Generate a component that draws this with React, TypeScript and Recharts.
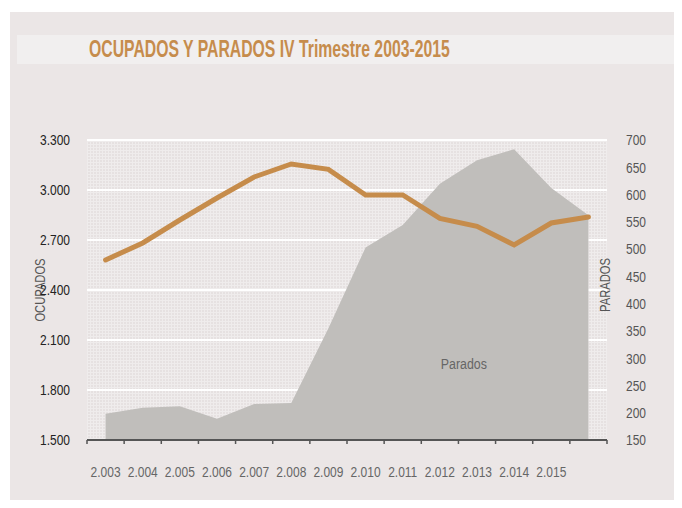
import React from "react";
import {
  ComposedChart,
  Area,
  Line,
  XAxis,
  YAxis,
  CartesianGrid,
  ReferenceDot,
} from "recharts";

// IV trimestre, miles de personas
const years = [
  "2.003", "2.004", "2.005", "2.006", "2.007", "2.008", "2.009",
  "2.010", "2.011", "2.012", "2.013", "2.014", "2.015", "",
];
const ocupados = [2580, 2682, 2820, 2952, 3078, 3156, 3124, 2970, 2970, 2830, 2782, 2670, 2802, 2838];
const parados = [198, 209, 212, 189, 216, 218, 355, 503, 544, 620, 663, 683, 612, 562];

const leftTicks = [1500, 1800, 2100, 2400, 2700, 3000, 3300];
const rightTicks = [150, 200, 250, 300, 350, 400, 450, 500, 550, 600, 650, 700];

const data = years.map((y, i) => ({ year: y, ocupados: ocupados[i], parados: parados[i] }));

const FONT = "'Liberation Sans', Arial, sans-serif";
const SQUEEZE = 0.8; // condensed look, no narrow font installed
const fmtMiles = (v: number) => v.toLocaleString("de-DE");

// text drawn at (x, y) and squeezed horizontally
function NarrowText({ x, y, rot = 0, anchor = "middle", size = 15, fill = "#555", sx = SQUEEZE, children }: any) {
  return (
    <text
      transform={`translate(${x},${y}) rotate(${rot}) scale(${sx},1)`}
      textAnchor={anchor}
      dy="0.355em"
      fill={fill}
      fontSize={size}
      fontFamily={FONT}
    >
      {children}
    </text>
  );
}

function YearTick(props: any) {
  const { x, y, payload, index, visibleTicksCount } = props;
  const half = payload?.offset ?? (607 - 87) / 28;
  const last = index === visibleTicksCount - 1;
  return (
    <g>
      <line x1={x - half} x2={x - half} y1={y} y2={y + 4} stroke="#555" strokeWidth={1.5} />
      {last && <line x1={x + half} x2={x + half} y1={y} y2={y + 4} stroke="#555" strokeWidth={1.5} />}
      {payload.value && (
        <NarrowText x={x} y={y + 32} fill="#666">
          {payload.value}
        </NarrowText>
      )}
    </g>
  );
}

function LeftTick(props: any) {
  const { x, y, payload } = props;
  return (
    <NarrowText x={x} y={y} anchor="end" fill="#222">
      {fmtMiles(payload.value)}
    </NarrowText>
  );
}

function RightTick(props: any) {
  const { x, y, payload } = props;
  return (
    <NarrowText x={x} y={y} anchor="start" fill="#555">
      {payload.value}
    </NarrowText>
  );
}

const sideLabel = (text: string, cx: number, dyc: number) => (props: any) => {
  const vb = props.viewBox || {};
  const cy = (vb.y ?? 140) + (vb.height ?? 300) / 2 + dyc;
  return (
    <NarrowText x={cx} y={cy} rot={-90} size={14} fill="#555">
      {text}
    </NarrowText>
  );
};

const areaLabel = (props: any) => {
  const vb = props.viewBox || {};
  return (
    <NarrowText x={(vb.cx ?? vb.x ?? 440) + 24} y={vb.cy ?? vb.y ?? 363} size={15.5} fill="#666">
      Parados
    </NarrowText>
  );
};

export default function App() {
  return (
    <div style={{ position: "relative", width: 682, height: 508, margin: -8, background: "#fff", overflow: "hidden" }}>
      <div style={{ position: "absolute", left: 10, top: 12, width: 672, height: 496, background: "#ebe6e6" }} />
      <div style={{ position: "absolute", left: 17, top: 35, width: 665, height: 29, background: "#f1efef" }} />
      <div
        style={{
          position: "absolute",
          left: 89,
          top: 34,
          transform: "scaleX(0.657)",
          transformOrigin: "0 0",
          whiteSpace: "nowrap",
          fontFamily: FONT,
          fontWeight: 700,
          fontSize: 24,
          lineHeight: "30px",
          color: "#c68c4c",
        }}
      >
        OCUPADOS Y PARADOS IV Trimestre 2003-2015
      </div>
      <div style={{ position: "absolute", left: 0, top: 0 }}>
        <ComposedChart width={682} height={508} data={data} margin={{ top: 140, right: 0, bottom: 0, left: 0 }}>
          <defs>
            <pattern id="dotgrid" width="3" height="3" patternUnits="userSpaceOnUse">
              <rect width="3" height="3" fill="#e6e1e1" />
              <rect width="3" height="1" fill="#efecec" />
              <rect width="1" height="3" fill="#efecec" />
            </pattern>
          </defs>
          <CartesianGrid
            yAxisId="left"
            vertical={false}
            stroke="#ffffff"
            strokeWidth={2}
            fill="url(#dotgrid)"
            fillOpacity={1}
          />
          <XAxis
            dataKey="year"
            scale="band"
            height={68}
            tickLine={false}
            tickSize={0}
            tickMargin={0}
            axisLine={{ stroke: "#555", strokeWidth: 2 }}
            tick={<YearTick />}
            interval={0}
          />
          <YAxis
            yAxisId="left"
            width={87}
            domain={[1500, 3300]}
            ticks={leftTicks}
            axisLine={false}
            tickLine={false}
            tickSize={6}
            tickMargin={11}
            tick={<LeftTick />}
            label={{ content: sideLabel("OCUPADOS", 40, 0) }}
          />
          <YAxis
            yAxisId="right"
            orientation="right"
            width={75}
            domain={[150, 700]}
            ticks={rightTicks}
            axisLine={false}
            tickLine={false}
            tickSize={6}
            tickMargin={13}
            tick={<RightTick />}
            label={{ content: sideLabel("PARADOS", 605.5, -5) }}
          />
          <Area
            yAxisId="right"
            type="linear"
            dataKey="parados"
            fill="#c0bebb"
            fillOpacity={1}
            stroke="none"
            isAnimationActive={false}
          />
          <Line
            yAxisId="left"
            type="linear"
            dataKey="ocupados"
            stroke="#c68c4b"
            strokeWidth={5}
            strokeLinecap="round"
            dot={false}
            activeDot={false}
            isAnimationActive={false}
          />
          <ReferenceDot
            yAxisId="right"
            x="2.012"
            y={291}
            r={0}
            fill="none"
            stroke="none"
            label={{ content: areaLabel }}
          />
        </ComposedChart>
      </div>
    </div>
  );
}
